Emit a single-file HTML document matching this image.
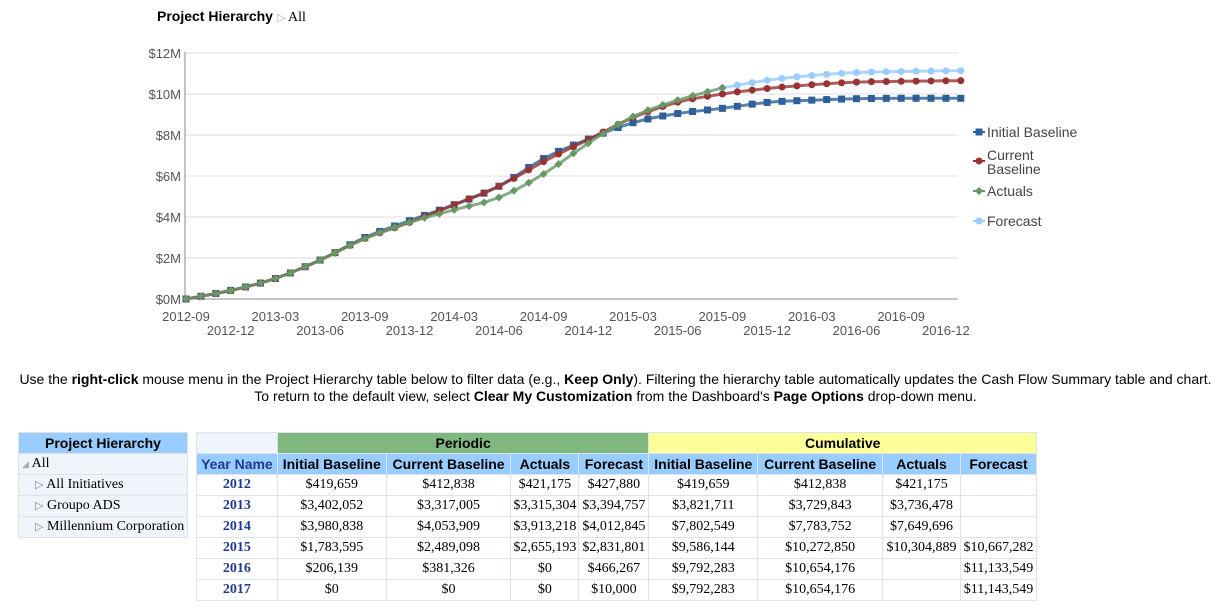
<!DOCTYPE html>
<html><head><meta charset="utf-8"><style>
body{margin:0;width:1231px;height:609px;background:#fff;font-family:"Liberation Sans",Arial,sans-serif;position:relative;overflow:hidden}
.abs{position:absolute}
table{border-collapse:collapse;position:absolute}
td{border:1px solid #dde3ec;padding:0;height:20px;font-size:14px}
.ser{font-family:"Liberation Serif",serif;font-size:14px}
.h{background:#99ccff;font-weight:bold;font-size:14px;text-align:center;color:#000}
#m td{text-align:center;font-family:"Liberation Serif",serif;font-size:14px;color:#000}
#m td.yr{color:#1f3a93;font-weight:bold}
#m tr.hd td{font-family:"Liberation Sans",Arial,sans-serif;font-weight:bold;background:#99ccff}
</style></head><body>
<div class="abs" style="left:157px;top:8px;font-size:14px;font-weight:bold">Project Hierarchy <span style="color:#aaa;font-weight:normal;font-size:11px">&#9655;</span><span class="ser" style="font-weight:normal"> All</span></div>
<svg id="c" class="abs" style="left:0;top:0" width="1231" height="345" font-family="Liberation Sans, Arial, sans-serif"></svg>
<div class="abs" style="left:0;width:1231px;top:371px;text-align:center;font-size:14px;line-height:17px">Use the <b>right-click</b> mouse menu in the Project Hierarchy table below to filter data (e.g., <b>Keep Only</b>). Filtering the hierarchy table automatically updates the Cash Flow Summary table and chart.<br>To return to the default view, select <b>Clear My Customization</b> from the Dashboard's <b>Page Options</b> drop-down menu.</div>
<table style="left:18px;top:432px;width:170px;background:#eff3fa">
<tr><td class="h">Project Hierarchy</td></tr>
<tr><td class="ser"><span style="color:#aaa;font-size:9px;padding-left:3px">&#9698;</span> All</td></tr>
<tr><td class="ser" style="padding-left:16px"><span style="color:#888;font-size:11px">&#9655;</span> All Initiatives</td></tr>
<tr><td class="ser" style="padding-left:16px"><span style="color:#888;font-size:11px">&#9655;</span> Groupo ADS</td></tr>
<tr><td class="ser" style="padding-left:16px;white-space:nowrap"><span style="color:#888;font-size:11px">&#9655;</span> Millennium Corporation</td></tr>
</table>
<table id="m" style="left:196px;top:432px;width:841px">
<colgroup><col style="width:81px"><col style="width:109px"><col style="width:125px"><col style="width:68px"><col style="width:70px"><col style="width:109px"><col style="width:125px"><col style="width:78px"><col style="width:76px"></colgroup>
<tr class="hd"><td style="background:#eff3fa"></td><td colspan="4" style="background:#7fb77e">Periodic</td><td colspan="4" style="background:#ffff99">Cumulative</td></tr>
<tr class="hd"><td style="color:#1f3a93">Year Name</td><td>Initial Baseline</td><td>Current Baseline</td><td>Actuals</td><td>Forecast</td><td>Initial Baseline</td><td>Current Baseline</td><td>Actuals</td><td>Forecast</td></tr>
<tr><td class="yr">2012</td><td>$419,659</td><td>$412,838</td><td>$421,175</td><td>$427,880</td><td>$419,659</td><td>$412,838</td><td>$421,175</td><td></td></tr>
<tr><td class="yr">2013</td><td>$3,402,052</td><td>$3,317,005</td><td>$3,315,304</td><td>$3,394,757</td><td>$3,821,711</td><td>$3,729,843</td><td>$3,736,478</td><td></td></tr>
<tr><td class="yr">2014</td><td>$3,980,838</td><td>$4,053,909</td><td>$3,913,218</td><td>$4,012,845</td><td>$7,802,549</td><td>$7,783,752</td><td>$7,649,696</td><td></td></tr>
<tr><td class="yr">2015</td><td>$1,783,595</td><td>$2,489,098</td><td>$2,655,193</td><td>$2,831,801</td><td>$9,586,144</td><td>$10,272,850</td><td>$10,304,889</td><td>$10,667,282</td></tr>
<tr><td class="yr">2016</td><td>$206,139</td><td>$381,326</td><td>$0</td><td>$466,267</td><td>$9,792,283</td><td>$10,654,176</td><td></td><td>$11,133,549</td></tr>
<tr><td class="yr">2017</td><td>$0</td><td>$0</td><td>$0</td><td>$10,000</td><td>$9,792,283</td><td>$10,654,176</td><td></td><td>$11,143,549</td></tr>
</table>
<script>
var s='',X0=186,DX=14.9,Y0=299,K=20.5;
function X(i){return X0+i*DX}function Y(v){return Y0-v*K}
for(var g=0;g<=6;g++){var y=Y(g*2);s+='<line x1="185" x2="958" y1="'+y+'" y2="'+y+'" stroke="'+(g?'#dcdce6':'#8a8a9a')+'"/>';
s+='<text x="181" y="'+(y+5)+'" text-anchor="end" font-size="13" fill="#555">$'+(g*2)+'M</text>';}
s+='<line x1="185" x2="185" y1="52" y2="299" stroke="#8a8a9a"/>';
var lab=['2012-09','2012-12','2013-03','2013-06','2013-09','2013-12','2014-03','2014-06','2014-09','2014-12','2015-03','2015-06','2015-09','2015-12','2016-03','2016-06','2016-09','2016-12'];
for(var k=0;k<lab.length;k++){s+='<text x="'+X(k*3)+'" y="'+(k%2?335:321)+'" text-anchor="middle" font-size="13" fill="#555">'+lab[k]+'</text>';}
function interp(a,n0,n1){var n=a.length,m=[];
for(var j=0;j<n;j++){var jp=Math.max(0,j-1),jn=Math.min(n-1,j+1);m.push((a[jn][1]-a[jp][1])/(a[jn][0]-a[jp][0]));}
var p=[];for(var i=n0;i<=n1;i++){for(var j=0;j<n-1;j++){if(i>=a[j][0]&&i<=a[j+1][0]){var h=a[j+1][0]-a[j][0],t=(i-a[j][0])/h,t2=t*t,t3=t2*t;
var v=(2*t3-3*t2+1)*a[j][1]+(t3-2*t2+t)*h*m[j]+(-2*t3+3*t2)*a[j+1][1]+(t3-t2)*h*m[j+1];p.push([i,v]);break;}}}return p;}
var ini=[[0,0],[3,.42],[6,1.0],[9,1.9],[12,3.0],[15,3.82],[18,4.6],[21,5.5],[24,6.85],[27,7.8],[30,8.6],[33,9.05],[36,9.3],[39,9.59],[42,9.7],[45,9.77],[48,9.79],[52,9.79]];
var cur=[[0,0],[3,.41],[6,1.0],[9,1.9],[12,2.95],[15,3.73],[18,4.6],[21,5.5],[24,6.7],[27,7.78],[30,8.85],[33,9.6],[36,10.0],[39,10.27],[42,10.45],[45,10.58],[48,10.62],[52,10.65]];
var act=[[0,0],[3,.42],[6,1.0],[9,1.9],[12,2.95],[15,3.74],[18,4.35],[21,4.95],[24,6.1],[27,7.6],[30,8.9],[33,9.7],[36,10.3]];
var fc=[[36,10.3],[39,10.67],[42,10.9],[45,11.05],[48,11.1],[52,11.14]];
function series(a,n0,n1,col,mk){var p=interp(a,n0,n1),d='';p.forEach(function(q,i){d+=(i?'L':'M')+X(q[0]).toFixed(1)+' '+Y(q[1]).toFixed(1)});
s+='<path d="'+d+'" fill="none" stroke="'+col+'" stroke-width="3" stroke-opacity=".8"/>';
p.forEach(function(q){var x=X(q[0]),y=Y(q[1]);s+=mk(x,y,col)});}
function sq(x,y,c){return '<rect x="'+(x-3.5)+'" y="'+(y-3.5)+'" width="7" height="7" fill="'+c+'"/>'}
function ci(x,y,c){return '<circle cx="'+x+'" cy="'+y+'" r="3.5" fill="'+c+'"/>'}
function di(x,y,c){return '<path d="M'+x+' '+(y-4)+'L'+(x+4)+' '+y+'L'+x+' '+(y+4)+'L'+(x-4)+' '+y+'Z" fill="'+c+'"/>'}
series(fc,36,52,'#99ccff',ci);
series(ini,0,52,'#2f5f98',sq);
series(cur,0,52,'#993333',ci);
series(act,0,36,'#669966',di);
function leg(y,c,mk){s+='<line x1="973" x2="985" y1="'+y+'" y2="'+y+'" stroke="'+c+'" stroke-width="2"/>'+mk(979,y,c);}
leg(132,'#2f5f98',sq);leg(161,'#993333',ci);leg(191,'#669966',di);leg(221,'#99ccff',ci);
var lt=[[137,'Initial Baseline'],[160,'Current'],[174,'Baseline'],[196,'Actuals'],[226,'Forecast']];
lt.forEach(function(q){s+='<text x="987" y="'+q[0]+'" font-size="14" fill="#444">'+q[1]+'</text>'});
document.getElementById('c').innerHTML=s;
</script>
</body></html>
